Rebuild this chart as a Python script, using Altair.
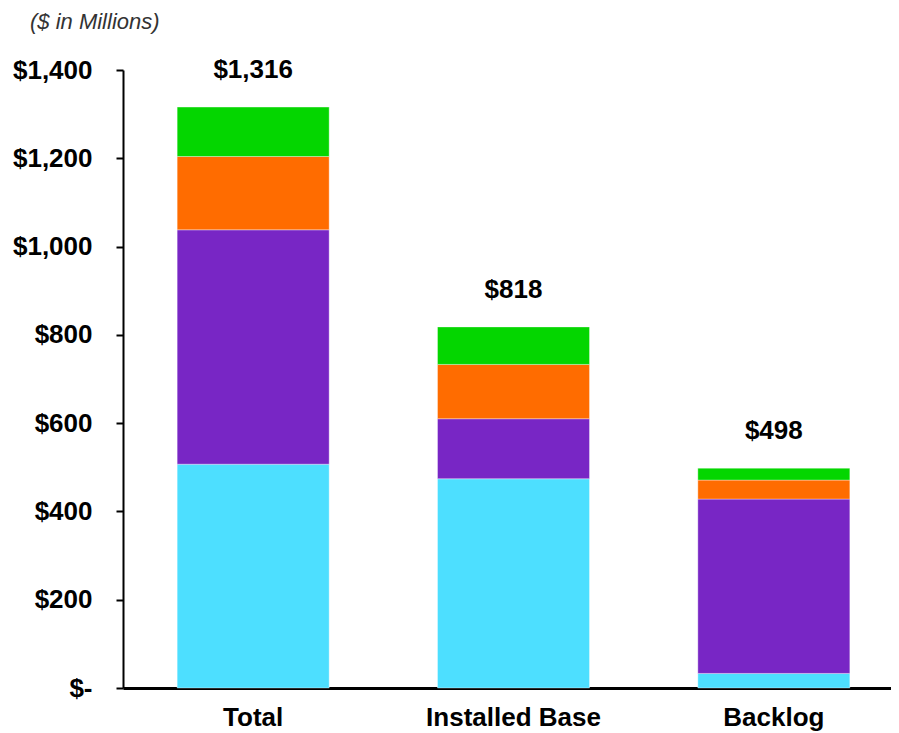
import altair as alt
import pandas as pd

categories = ["Total", "Installed Base", "Backlog"]
segments = ["Segment 1", "Segment 2", "Segment 3", "Segment 4"]
seg1 = [507, 474, 33]
seg2 = [531, 136, 395]
seg3 = [166, 123, 43]
seg4 = [112, 85, 27]
colors = ["#4DDFFF", "#7826C5", "#FF6C00", "#04D600"]
y_ticks = [0, 200, 400, 600, 800, 1000, 1200, 1400]

rows = []
for si, (name, vals) in enumerate(zip(segments, [seg1, seg2, seg3, seg4])):
    for c, v in zip(categories, vals):
        rows.append({"category": c, "segment": name, "order": si, "value": v})
df = pd.DataFrame(rows)

FONT = "Liberation Sans"

x = alt.X("category:N", sort=categories, title=None,
          scale=alt.Scale(range=[0, 781], paddingInner=0, paddingOuter=0),
          axis=alt.Axis(labelAngle=0, ticks=False, domainColor="black", domainWidth=3,
                        labelFont=FONT, labelFontSize=26, labelFontWeight="bold",
                        labelColor="black", labelPadding=16))

bars = alt.Chart(df).mark_bar(size=152, stroke="#ffffff", strokeWidth=0.6, strokeOpacity=0.6).encode(
    x=x,
    y=alt.Y("value:Q", stack="zero", title=None,
            scale=alt.Scale(domain=[0, 1400], nice=False),
            axis=alt.Axis(values=y_ticks, grid=False, domainColor="black", domainWidth=2,
                          tickColor="black", tickWidth=2, tickSize=7,
                          labelFont=FONT, labelFontSize=26, labelFontWeight="bold",
                          labelColor="black", labelPadding=24,
                          labelExpr="datum.value == 0 ? '$-' : '$' + format(datum.value, ',')")),
    color=alt.Color("segment:N", scale=alt.Scale(domain=segments, range=colors), legend=None),
    order=alt.Order("order:Q"),
)

labels = alt.Chart(df).mark_text(font=FONT, fontSize=26, fontWeight="bold", color="black",
                                 baseline="alphabetic", dy=-29).encode(
    x=alt.X("category:N", sort=categories),
    y=alt.Y("sum(value):Q"),
    text=alt.Text("sum(value):Q", format="$,.0f"),
)

chart = alt.layer(bars, labels).properties(
    width=768,
    height=618,
    autosize=alt.AutoSizeParams(type="none"),
    padding={"left": 115, "top": 62, "right": 0, "bottom": 50},
    title=alt.TitleParams(text="($ in Millions)", anchor="start", frame="group",
                          font=FONT, fontStyle="italic", fontWeight="normal",
                          fontSize=22, color="#333333", dx=-93, offset=6,
                          baseline="alphabetic"),
).configure_view(stroke=None)

chart.save("out.html", embed_options={"renderer": "svg", "actions": False})
